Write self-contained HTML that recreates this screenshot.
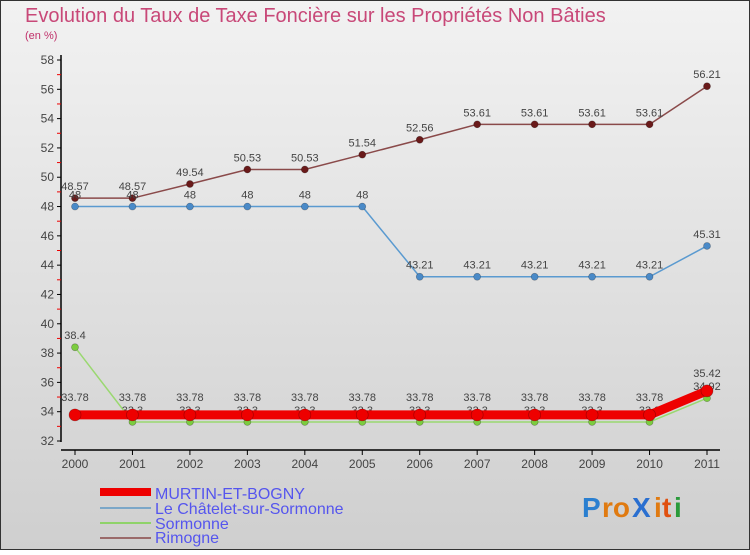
<!DOCTYPE html>
<html><head><meta charset="utf-8"><style>
body{margin:0;width:750px;height:550px;overflow:hidden;font-family:"Liberation Sans",sans-serif}
svg text{font-family:"Liberation Sans",sans-serif}
</style></head><body>
<svg id="chart" width="750" height="550" xmlns="http://www.w3.org/2000/svg">
<defs><linearGradient id="bg" x1="0" y1="0" x2="0" y2="1"><stop offset="0" stop-color="#f2f2f2"/><stop offset="1" stop-color="#cfcfcf"/></linearGradient></defs>
<rect x="0.5" y="0.5" width="749" height="549" fill="url(#bg)" stroke="#333"/>
<text x="25" y="22" font-size="20" fill="#c84878">Evolution du Taux de Taxe Foncière sur les Propriétés Non Bâties</text>
<text x="25" y="39" font-size="11" fill="#c0306a">(en %)</text>
<g id="axes"></g><g id="series"></g>
<g>
<rect x="100" y="488" width="51" height="8" fill="#e00"/>
<text x="155" y="499" font-size="16" fill="#5555ee">MURTIN-ET-BOGNY</text>
<rect x="100" y="507" width="51" height="2" fill="#7ba7c8"/>
<text x="155" y="514" font-size="16" fill="#5555ee">Le Châtelet-sur-Sormonne</text>
<rect x="100" y="522" width="51" height="2" fill="#8fd36a"/>
<text x="155" y="529" font-size="16" fill="#5555ee">Sormonne</text>
<rect x="100" y="537" width="51" height="2" fill="#9a6a6a"/>
<text x="155" y="543" font-size="16" fill="#5555ee">Rimogne</text>
</g>
<g font-size="28" font-family="Liberation Sans" font-weight="bold">
<text x="582" y="517" fill="#2a7fd0">P</text><text x="602" y="517" fill="#e07a10">ro</text><text x="632" y="517" fill="#2a6fd0">X</text><text x="654" y="517" fill="#e07a10">i</text><text x="662" y="517" fill="#e05010">t</text><text x="674" y="517" fill="#2a9a3a">i</text>
</g>
</svg>
<script>
const years=[2000,2001,2002,2003,2004,2005,2006,2007,2008,2009,2010,2011];
const yTicks=[32,34,36,38,40,42,44,46,48,50,52,54,56,58];
const murtin=[33.78,33.78,33.78,33.78,33.78,33.78,33.78,33.78,33.78,33.78,33.78,35.42];
const chatelet=[48,48,48,48,48,48,43.21,43.21,43.21,43.21,43.21,45.31];
const sormonne=[38.4,33.3,33.3,33.3,33.3,33.3,33.3,33.3,33.3,33.3,33.3,34.92];
const rimogne=[48.57,48.57,49.54,50.53,50.53,51.54,52.56,53.61,53.61,53.61,53.61,56.21];
const NS="http://www.w3.org/2000/svg";
const xS=i=>75+i*(707-75)/11;
const yS=v=>441-(v-32)*(441-60)/26;
function mk(tag,attrs,parent){const e=document.createElementNS(NS,tag);for(const k in attrs)e.setAttribute(k,attrs[k]);parent.appendChild(e);return e;}
const ax=document.getElementById('axes');
let l=mk('line',{x1:61,y1:55,x2:61,y2:442,stroke:'#000','stroke-width':1.5},ax);


l=mk('line',{x1:61,y1:450,x2:720,y2:450,stroke:'#000','stroke-width':1.5},ax);


yTicks.forEach((t,i)=>{
  const y=yS(t);
  mk('line',{x1:57,y1:y,x2:61,y2:y,stroke:'#000'},ax);
  if(i<yTicks.length-1) mk('line',{x1:57,y1:yS(t+1),x2:61,y2:yS(t+1),stroke:'#e00'},ax);
  const tx=mk('text',{x:54,y:y+4,'font-size':12,'text-anchor':'end',fill:'#444'},ax);
  tx.textContent=t;
  
  
});
years.forEach((yr,i)=>{
  const x=xS(i);
  mk('line',{x1:x,y1:450,x2:x,y2:455,stroke:'#000'},ax);
  const tx=mk('text',{x:x,y:468,'font-size':12,'text-anchor':'middle',fill:'#444'},ax);
  tx.textContent=yr;
  
  
});
const sg=document.getElementById('series');
function series(name,data,color,w,r,dot,labOff){
  const g=mk('g',{},sg);
  
  
  const p=mk('polyline',{points:data.map((v,i)=>xS(i)+','+yS(v)).join(' '),fill:'none',stroke:color,'stroke-width':w},g);
  
  
  data.forEach((v,i)=>{
    const c=mk('circle',{cx:xS(i),cy:yS(v),r:r,fill:dot,stroke:'rgba(0,0,0,0.3)','stroke-width':0.7},g);
    
    
    const t=mk('text',{x:xS(i),y:yS(v)+labOff,'font-size':11,'text-anchor':'middle',fill:'#444'},g);
    t.textContent=String(v);
    
    
  });
}
series('rimogne',rimogne,'#8a4a4a',1.5,3.5,'#6a1a1a',-8);
series('chatelet',chatelet,'#5a9ad0',1.5,3.5,'#4a8ac8',-8);
series('sormonne',sormonne,'#9ad870',1.5,3.5,'#7ccc40',-8);
series('murtin',murtin,'#e00',9,6,'#e00',-14);
</script>
</body></html>
